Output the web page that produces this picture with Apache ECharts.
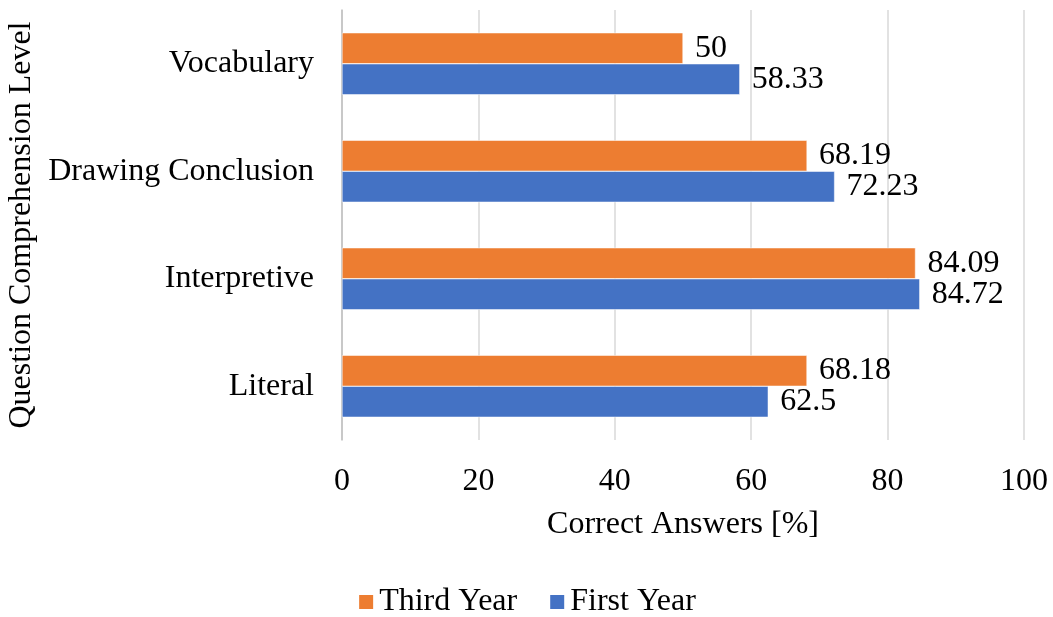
<!DOCTYPE html>
<html>
<head>
<meta charset="utf-8">
<script src="https://cdn.jsdelivr.net/npm/echarts@6/dist/echarts.min.js"></script>
<style>
  html, body { margin: 0; padding: 0; background: #fff; }
  #chart { width: 1053px; height: 617px; }
</style>
</head>
<body>
<div id="chart"></div>
<script>
// data
var levels = ['Literal', 'Interpretive', 'Drawing Conclusion', 'Vocabulary'];
var thirdYear = [68.18, 84.09, 68.19, 50];
var firstYear = [62.5, 84.72, 72.23, 58.33];
var xTicks = [0, 100, 20];   // min, max, interval

var font = 'Liberation Serif';

var chart = echarts.init(document.getElementById('chart'));

var option = {
  backgroundColor: '#fff',
  textStyle: { fontFamily: font },
  grid: { left: 342, right: 29, top: 10, bottom: 177, outerBoundsMode: 'none' },
  legend: {
    bottom: -6,
    left: 'center',
    data: ['Third Year', 'First Year'],
    icon: 'rect',
    itemWidth: 16,
    itemHeight: 16,
    itemGap: 31,
    textStyle: { fontFamily: font, fontSize: 32, color: '#000' }
  },
  xAxis: {
    type: 'value',
    min: xTicks[0],
    max: xTicks[1],
    interval: xTicks[2],
    name: 'Correct Answers [%]',
    nameLocation: 'middle',
    nameGap: 69,
    nameTextStyle: { fontFamily: font, fontSize: 32, color: '#000' },
    axisLine: { show: false },
    axisTick: { show: false },
    axisLabel: { fontFamily: font, fontSize: 32, color: '#000', margin: 26 },
    splitLine: { lineStyle: { color: '#d9d9d9', width: 1.5 } }
  },
  yAxis: {
    type: 'category',
    data: levels,
    name: 'Question Comprehension Level',
    nameLocation: 'middle',
    nameGap: 302,
    nameRotate: 90,
    nameTextStyle: { fontFamily: font, fontSize: 32, color: '#000' },
    axisLine: { lineStyle: { color: '#bfbfbf', width: 1.5 } },
    axisTick: { length: 9, lineStyle: { color: '#bfbfbf', width: 1.5 } },
    axisLabel: { fontFamily: font, fontSize: 32, color: '#000', margin: 28 }
  },
  series: [
    {
      name: 'Third Year',
      type: 'bar',
      data: thirdYear,
      barWidth: 31,
      barGap: '0%',
      itemStyle: { color: '#ed7d31', borderColor: '#fff', borderWidth: 0.5 },
      label: { show: true, position: 'right', distance: 12, fontFamily: font, fontSize: 32, color: '#000' }
    },
    {
      name: 'First Year',
      type: 'bar',
      data: firstYear,
      barWidth: 31,
      barGap: '0%',
      itemStyle: { color: '#4472c4', borderColor: '#fff', borderWidth: 0.5 },
      label: { show: true, position: 'right', distance: 12, fontFamily: font, fontSize: 32, color: '#000' }
    }
  ]
};

chart.setOption(option);
</script>
</body>
</html>
